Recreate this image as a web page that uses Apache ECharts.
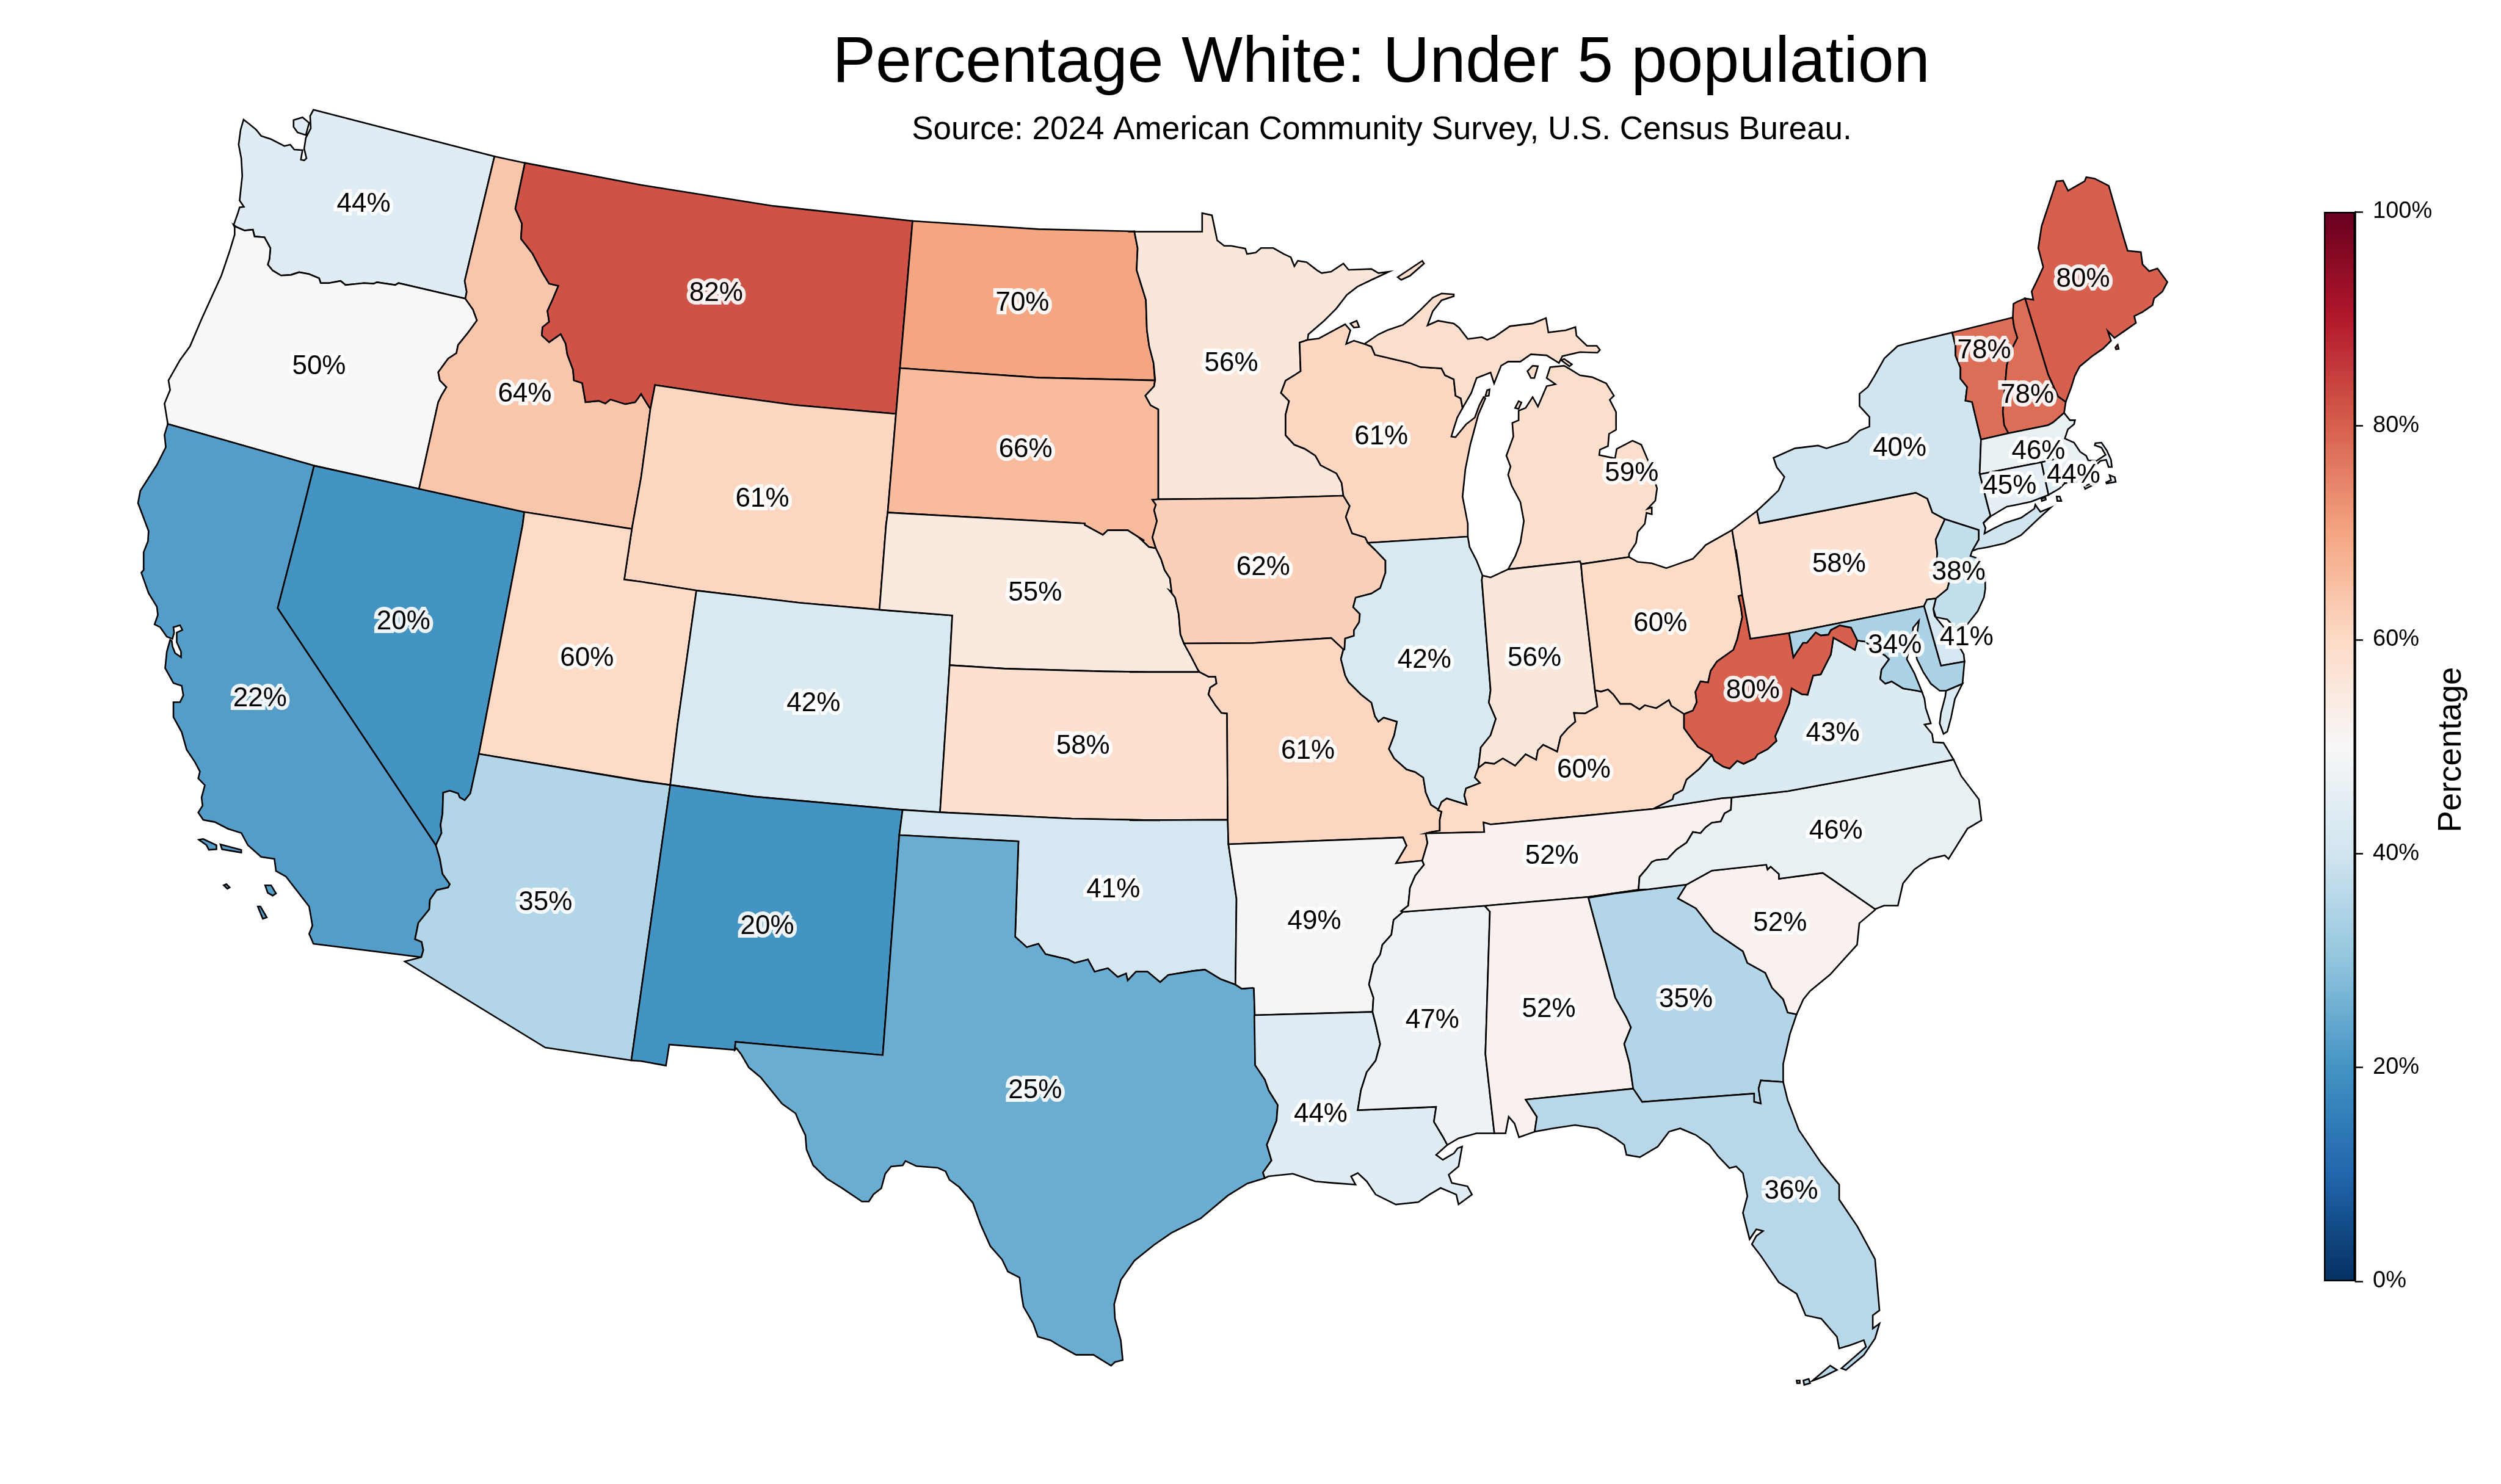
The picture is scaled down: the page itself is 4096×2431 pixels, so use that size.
<!DOCTYPE html>
<html>
<head>
<meta charset="utf-8">
<style>html,body{margin:0;padding:0;background:#fff}#c{width:4096px;height:2431px}</style>
<script src="https://cdn.jsdelivr.net/npm/echarts@6/dist/echarts.min.js"></script>
</head>
<body>
<div id="c"></div>
<script>
// ---------- values ----------
const stateNames = ['WA','OR','CA','NV','ID','MT','WY','UT','AZ','CO','NM','ND','SD','NE','KS','OK','TX','MN','IA','MO','AR','LA','WI','IL','MS','MI','IN','OH','KY','TN','AL','GA','FL','SC','NC','VA','WV','PA','NY','ME','VT','NH','MA','CT','RI','NJ','DE','MD'];
const stateValues = [44,50,22,20,64,82,61,60,35,42,20,70,66,55,58,41,25,56,62,61,49,44,61,42,47,59,56,60,60,52,52,35,36,52,46,43,80,58,40,80,78,78,46,45,44,38,41,34];
const colorStops = ['#053061','#2166ac','#4393c3','#92c5de','#d1e5f0','#f7f7f7','#fddbc7','#f4a582','#d6604d','#b2182b','#67001f'];
const titleText = 'Percentage White: Under 5 population';
const subtitleText = 'Source: 2024 American Community Survey, U.S. Census Bureau.';
const colorbarName = 'Percentage';
const colorbarRange = [0, 100];
const colorbarStep = 20;

// ---------- map geometry (basemap outlines) ----------
const frames = {o:[0,0,1,1],z1:[200,170,850,700],z2:[1050,170,850,700],z3:[1850,300,900,700],z4:[2750,250,850,700],z5:[200,860,850,700],z6:[1050,860,850,900],z7:[1850,950,900,700],z8:[2700,900,650,600],z9:[2000,1450,1150,850],z10:[1150,1650,1000,620],z11:[3200,600,350,300]};
const arcs = {
wa_n:['z1',578,22,1125,193],
wa_id:['z1',1125,193,1035,650,1041,690,1037,715],
wa_or:['z1',1037,715,835,658,825,665,770,655,760,660,730,658,700,662,675,665,660,650,625,658,600,658,595,640,565,625,535,618,510,628,480,630,455,612,440,590,445,570,448,530,430,490,400,487,395,462,370,465,345,452,337,445],
wa_c:['z1',337,445,350,400,355,380,368,378,355,355,358,320,363,265,360,200,352,150,358,95,367,58,385,75,405,95,420,118,450,130,490,155,508,150,520,168,545,170,540,205,550,208,557,200,550,165,555,125,570,90,568,45,578,22],
i_wa:['z1',518,60,545,50,565,70,555,115,530,105,518,85],
or_id:['z1',1037,715,1060,755,1072,795,1045,840,1015,885,1010,915,985,935,955,985,960,1015,980,1040,965,1070,955,1095,897,1413],
or_nv:['z1',897,1413,580,1328],
or_ca:['z1',580,1328,138,1175],
or_c:['z1',138,1175,128,1100,145,1050,140,1015,175,940,205,890,240,790,270,710,300,630,325,540,340,480,340,452,337,445],
ca_c:['z1',138,1175,128,1215,132,1260,105,1325,55,1420,48,1465,80,1568,'z5',78,60,65,100,65,165,58,175,80,250,105,300,108,330,98,365,115,375,135,410,152,418,157,395,155,375,175,368,182,385,165,395,165,430,178,465,178,485,160,470,152,445,150,425,145,422,135,465,130,525,155,580,180,590,185,625,175,650,155,650,155,705,180,760,195,825,220,870,235,905,230,930,250,955,240,1000,243,1030,230,1055,245,1082,280,1090,320,1115,360,1130,380,1175,420,1218,460,1225,465,1270,495,1290,530,1345,565,1400,575,1470,565,1500,578,1537,'o',690,1568],
ca_az:['z5',948,1175,960,1225,968,1280,990,1318,985,1330,950,1340,930,1375,928,1410,895,1460,885,1520,905,1530,910,1560,'o',690,1568],
ca_nv:['z5',948,1175,470,305,535,0,'z1',580,1328],
i_ca1:['z5',232,1155,245,1152,285,1175,285,1190,262,1192,255,1175],
i_ca2:['z5',297,1172,360,1192,360,1202,302,1190],
i_ca3:['z5',307,1322,315,1318,325,1330,318,1335],
i_ca4:['z5',432,1322,450,1322,465,1352,455,1360,440,1350],
i_ca5:['z5',410,1400,418,1400,437,1440,425,1445],
nv_id:['z1',897,1413,1215,1498],
nv_ut:['z1',1215,1498,'z5',1210,0,1078,840],
nv_az:['z5',1078,840,1052,985,1035,1010,1020,1000,1015,985,990,975,970,982,968,1060,962,1100,965,1130,948,1175],
id_n:['z1',1125,193,1217,217],
id_mt:['z1',1217,217,1188,385,1208,440,1205,495,1240,550,1270,620,1290,660,1318,668,1300,720,1285,760,1290,800,1270,820,1268,850,1290,875,1325,845,1340,880,1345,920,1362,975,1365,1015,1390,1025,1400,1095,1440,1090,1460,1100,1475,1085,1520,1102,1550,1095,1568,1065,'z2',10,1085,28,1120],
id_wy:['z2',28,1120,0,1370,'z1',1540,1560],
id_ut:['z1',1540,1560,1215,1498],
ut_wy:['z1',1540,1560,'z5',1517,200],
wy_ut_s:['z5',1517,200,'z6',0,162,167,187],
ut_co:['z6',167,187,110,570,88,742],
ut_az:['z6',88,742,0,730,'z5',1568,940,1078,840],
mt_wy:['z2',28,1120,42,1032,250,1070,460,1105,770,1138],
wy_sd:['z2',770,1138,745,1500],
wy_ne:['z2',745,1500,'z6',740,0,720,242],
wy_co:['z6',720,242,480,222,167,187],
mt_n:['z1',1217,217,1568,298,'z2',400,375,820,430],
mt_nd:['z2',820,430,782,970],
mt_sd:['z2',782,970,770,1138],
nd_n:['z2',820,430,1200,460,1490,468],
nd_mn:['z2',1490,468,1500,530,1497,610,1525,720,1528,830,1535,890,1548,950,1552,1015],
nd_sd:['z2',1552,1015,1200,1005,782,970],
sd_mn:['z3',73,722,70,745,45,780,60,815,82,830,82,1160],
sd_ia:['z3',82,1160,65,1162,75,1180,70,1200,78,1240,65,1300,75,1340],
sd_ne:['z3',75,1340,55,1335,30,1305,'z6',1520,45,1470,15,1410,15,1395,28,1340,0,'z2',1340,1540,745,1500],
ne_ia:['z3',75,1340,90,1380,100,1420,115,1450,120,1500,'z7',115,40,130,65,140,125,145,200,155,233],
ne_mo:['z7',155,233,175,280,195,330,200,338],
ne_ks:['z7',200,338,0,338,'z6',1568,420,1400,418,1100,410,932,400],
ne_ks2:['z6',932,400,940,258],
ne_co:['z6',940,258,720,242],
ks_mo:['z7',200,338,225,355,245,355,248,380,230,395,225,420,245,460,262,488,278,490,280,880],
ks_ok:['z7',280,880,0,882,'z6',1568,843,1300,838,903,820],
ks_co:['z6',903,820,932,400],
co_ok:['z6',790,813,903,820],
co_nm:['z6',790,813,340,775,88,742],
nm_ok:['z6',790,813,780,885],
nm_tx:['z6',780,885,730,1513,285,1475,283,1498],
nm_s:['z6',283,1498,85,1483,75,1543,0,1530,'o',1034,1737],
az_nm:['o',1034,1737,'z6',0,1330,88,742],
az_s:['o',1034,1737,893,1716,663,1575,690,1568],
tx_ok1:['z6',780,885,1140,903,1130,1175],
red:['z6',1130,1175,1165,1205,1200,1195,1222,1225,1290,1240,1310,1250,1350,1240,1370,1275,1410,1265,1440,1290,1465,1280,1470,1300,1495,1275,1530,1275,1568,1305,'z7',110,1450,180,1435,215,1430,260,1465,302,1485],
tx_ar:['z7',302,1485,320,1500,352,1497,'z9',73,312,75,393],
tx_la:['z10',1418,35,1420,240,1445,300,1455,345,1478,405,1475,470,1450,570,1462,635,1440,685,1445,708],
tx_c:['z10',1445,708,1400,730,1350,780,1280,875,1205,935,1160,985,1110,1050,1075,1130,1058,1230,1060,1290,1075,1380,1080,1462,1060,1470,1050,1485,1030,1465,1005,1440,960,1440,915,1400,895,1380,862,1365,850,1310,825,1240,820,1190,815,1120,785,1095,770,1045,740,990,715,900,695,810,660,745,635,715,625,680,605,665,550,658,522,637,515,655,485,660,470,690,460,750,440,775,428,805,410,805,360,750,320,710,285,655,268,590,265,530,250,480,240,440,205,400,180,350,150,290,120,250,100,195,88,170,'z6',283,1498],
ok_mo:['z7',280,880,282,970],
ok_ar:['z7',282,970,305,1170,302,1485],
mo_ar:['z7',282,970,780,945,790,975,760,1040,835,1030],
mo_tn:['z7',835,1030,850,965,845,930],
mo_ky:['z7',845,930,860,925,885,920,885,880,890,850],
mo_il:['z7',890,850,860,825,845,780,838,725,815,705,790,695,755,655,740,620,755,570,763,520,725,505,710,520,700,500,690,450,660,420,625,375,615,350,603,290,610,255],
ia_mo:['z7',155,233,350,232,575,213,610,255],
ia_il:['z3',680,1320,700,1345,730,1385,730,1430,'z7',715,30,690,50,645,65,638,100,657,125,655,155,640,185,640,205,615,215,613,255,610,255],
mn_ia:['z3',82,1160,350,1157,610,1147],
wi_ia:['z3',610,1147,628,1185,617,1225,635,1285,672,1300,680,1320],
wi_il:['z3',680,1320,965,1297],
il_lk:['z3',965,1297,970,1335,990,1385,1007,1440],
il_in:['z3',1007,1440,'z7',1005,0,1030,405,1025,450,1045,510,1030,570,1002,615,995,690],
il_ky:['z7',995,690,985,725,1000,745,960,765,955,790,962,825,905,802,890,815,880,845,890,850],
lake_in:['z3',1007,1440,1030,1447,1080,1417],
in_mi:['z3',1080,1417,1285,1388,1288,1398],
in_oh:['z3',1288,1398,'z7',1292,0,1328,405],
in_ky:['z7',1328,405,1335,465,1300,490,1268,488,1272,520,1250,545,1230,575,1220,630,1180,605,1165,625,1160,660,1130,640,1100,682,1065,655,1040,675,1015,670,995,690],
mi_oh:['z3',1288,1398,1425,1372],
oh_lk:['z3',1425,1372,1450,1390,1490,1395,'z8',70,80,110,65,175,40,210,0,'z4',80,1440,160,1385],
oh_pa:['z4',160,1385,185,1568,'z8',345,0,370,195],
oh_wv:['z8',370,195,355,200,365,250,370,290,350,385,335,430,270,480,245,520,235,570,205,565,185,610,190,655,175,690,140,705],
oh_ky:['z8',140,705,90,670,80,645,30,680,'z7',1470,460,1455,475,1430,455,1400,455,1380,420,1365,402,1345,410,1328,405],
ky_wv:['z8',140,705,140,765,170,810,195,845,250,880],
ky_va:['z8',250,880,200,940,150,985,135,1030,100,1050,95,1070,20,1110],
ky_tn:['z7',845,930,1012,925,1010,890,1030,897,1300,865,1495,840],
tn_va:['z8',20,1110,290,1065,328,1062],
tn_nc:['z8',328,1062,325,1115,300,1130,285,1165,250,1170,225,1190,205,1215,175,1210,150,1255,110,1285,75,1325,30,1330,'z7',1490,1035,1475,1060,1455,1090,1452,1137],
ga_tn:['z7',1452,1137,1310,1163],
al_tn:['z7',1020,1195,1310,1163],
ms_tn:['z7',780,1218,1020,1195],
ar_tn:['z7',835,1030,840,1045,815,1085,800,1130,795,1195,775,1215,780,1218],
ar_ms:['z7',780,1218,'z9',385,105,380,150,360,180,355,210,340,240,330,300,340,340,338,383],
la_ar:['z9',75,393,338,383],
la_ms:['z9',338,383,345,420,355,480,345,530,325,565,312,620,305,680,480,670,475,715,495,760,505,785],
la_c:['z9',505,785,480,815,495,830,520,810,528,795,538,790,530,850,508,875,515,900,550,910,560,935,545,950,530,965,525,935,490,915,465,935,440,958,390,965,345,935,325,895,305,870,290,880,300,905,250,900,210,895,160,872,105,880,'z10',1445,708],
ms_al:['z9',590,65,600,80,590,510,610,750],
ms_c:['z9',610,750,570,750,530,765,505,785],
al_ga:['z9',820,38,880,340,905,400,915,430,900,480,912,540,920,615],
al_fl:['z9',920,615,680,648,705,700,700,745],
al_c:['z9',700,745,665,762,655,720,642,700,635,750,610,750],
ga_nc:['z8',0,1455,150,1435],
ga_sc:['z8',150,1435,'z9',1020,40,1060,70,1100,140,1165,200,1175,235,1215,265,1230,310,1255,345,1265,385,1285,390],
ga_c:['z9',1285,390,1270,450,1255,540,1255,595],
ga_fl:['z9',1255,595,1205,590,1200,615,1205,660,1190,655,1190,630,940,655,920,615],
fl_c:['z9',1255,595,1265,650,1290,740,1340,840,1380,905,1380,950,1420,1030,1460,1130,1470,1285,1455,1300,1455,1340,1470,1325,1460,1370,1435,1420,1395,1465,1385,1460,1440,1395,1435,1375,1405,1390,1380,1400,1375,1365,1340,1310,1305,1300,1285,1235,1245,1200,1205,1120,1185,1085,1195,1060,1210,1045,1195,1040,1180,1070,1165,990,1175,940,1165,870,1150,850,1135,855,1110,820,1090,785,1060,755,1025,735,1000,745,975,790,935,822,905,815,900,785,880,765,840,735,790,725,740,735,700,745],
i_fl1:['z9',1320,1498,1360,1452,1375,1465,1345,1485],
i_fl2:['z9',1300,1497,1312,1492,1315,1505,1302,1510],
i_fl3:['z9',1285,1497,1292,1497,1292,1505,1286,1505],
sc_nc:['z8',150,1435,200,1405,250,1375,465,1350,470,1370,482,1358,515,1390,515,1410,688,1385,895,1540],
sc_c:['z9',1460,75,1425,115,1420,180,1390,225,1360,270,1315,320,1300,345,1285,390],
va_nc:['z8',328,1062,550,1035,800,985,1205,900],
nc_c:['z8',1205,900,1235,970,1305,1070,1315,1160,1260,1195,1185,1325,1170,1310,1110,1325,1050,1370,1005,1430,985,1525,930,1525,895,1540],
wv_va:['z8',250,880,260,905,295,930,320,938,350,905,375,918,420,895,430,878,470,855,505,820,500,800,540,700,555,660,565,595,605,620,628,622,650,540,680,535,720,450,730,378,815,430,825,390],
va_md:['z8',825,390,860,395,870,410,935,455,950,470,920,515,915,555,935,575,960,565,1005,595,1060,605,1080,610],
va_c:['z8',1080,610,1090,640,1095,680,1115,745,1090,750,1120,790,1125,825,1165,828,1205,900],
va_es:['z8',1240,575,1210,640,1195,720,1180,780,1165,790,1150,745,1155,700,1172,630,1175,605],
md_wv:['z8',825,390,800,335,755,325,720,345,710,365,680,368,660,355,625,400,610,400,572,462,555,358],
pa_wv:['z8',555,358,402,382,370,195],
pa_md:['z8',1088,243,555,358],
de_md:['z8',1088,243,1155,498,1248,480],
md_c:['z8',1248,480,1240,575,1175,605,1150,605,1115,575,1085,525,1060,470,1050,400,1062,350,1068,305,1045,335,1040,380,1020,470,1050,530,1080,610],
de_c:['z8',1248,480,1245,450,1235,430,1200,380,1160,325,1130,285,1125,255,1135,210],
pa_de:['z8',1135,210,1100,215,1088,243],
pa_lk:['z4',160,1385,235,1315],
pa_ny_w:['z4',235,1315,243,1360],
pa_ny:['z4',243,1360,715,1248,750,1270,765,1320,803,1345],
pa_nj:['z4',803,1345,775,1420,780,1470,775,1530,'z8',1150,70,1190,130,1180,170,1135,210],
nj_ny:['z4',803,1345,905,1385,905,1420,885,1462],
nj_c:['z4',885,1462,880,1480,905,1490,915,1540,'z8',1330,110,1330,170,1325,205,1300,265,1260,320,1210,335,1180,300,1135,290,1125,255,1135,210],
ny_n:['z4',235,1315,270,1275,300,1240,318,1190,295,1155,285,1120,350,1085,420,1075,445,1085,490,1068,510,1060,545,1020,575,1005,575,970,545,930,545,885,570,860,590,820,620,755,660,710,680,703,825,660],
ny_vt:['z4',825,660,835,710,835,745,850,790,850,830,870,860,865,910,885,915,912,1053],
ny_ma:['z4',912,1053,908,1178],
ny_ct:['z4',908,1178,'z11',165,680,180,735,145,770],
ny_li:['z11',145,770,155,795,150,822,190,800,250,770,330,745,395,700,400,680,410,695,425,715,475,695,420,745,330,830,250,870,160,890,115,898,'z4',885,1462],
vt_n:['z4',825,660,1008,605],
vt_nh:['z4',1008,605,1012,640,1022,680,1005,720,990,780,985,850,978,950,982,1000,995,1030],
vt_ma:['z4',995,1030,912,1053],
nh_n:['z4',1008,605,1010,555,1020,548,1045,535],
nh_me:['z4',1045,535,1115,815,1145,895,1168,915],
nh_c:['z4',1168,915,1163,955],
nh_ma:['z4',1163,955,1130,990,1115,1000,995,1030],
me_c:['z4',1045,535,1070,540,1065,510,1085,460,1100,420,1085,350,1095,270,1140,105,1160,103,1175,140,1225,105,1230,90,1255,95,1298,122,1345,320,1355,360,1395,365,1400,410,1420,435,1445,425,1475,475,1460,510,1435,535,1430,560,1400,585,1375,600,1380,625,1345,655,1315,680,1295,655,1305,690,1280,720,1250,745,1210,785,1195,820,1185,860,1168,915],
i_me:['z4',1318,715,1325,705,1328,720,1320,722],
ma_c:['z11',540,228,570,265,595,265,590,285,560,310,550,340,545,355,590,375,620,420,650,440,660,462,700,465,745,435,725,400,692,388,695,378,725,375,752,415,772,460,776,495,760,495,748,460,720,465,640,540,600,570,545,575],
ma_ri:['z11',545,575,525,520,500,455,430,472],
ma_ct:['z11',430,472,130,530],
ri_c:['z11',545,575,520,600,465,632],
ri_ct:['z11',465,632,430,472],
ct_c:['z11',465,632,380,665,310,680,260,690,180,738,145,770],
i_ma1:['z11',748,570,772,560,765,535,790,545,795,568,750,576],
i_ma2:['z11',640,590,690,570,700,575,645,603],
i_ri1:['z11',505,640,520,640,528,662,508,662],
i_ri2:['z11',430,650,450,645,452,655,432,662],
wi_sup:['z3',508,575,540,570,590,535,615,518,630,540,618,590,640,578,670,590],
wi_mi:['z3',670,590,690,600,700,630,800,660,830,675,890,680,900,705,925,720,930,780,945,790,950,825],
wi_lk:['z3',950,825,935,860,925,900,918,930,930,932,960,885,985,860,998,815,1010,785,1015,790,995,850,972,960,958,1050,950,1150,965,1250,965,1297],
mn_wi:['z3',508,575,485,585,488,690,470,705,445,725,432,770,455,800,445,850,445,925,470,960,500,975,530,1000,545,1035,590,1065,605,1100,610,1147],
mn_n:['z3',10,178,207,178,207,110,235,118,250,210,270,230,290,230,330,240,335,260,360,255,375,238,410,238,440,260,460,272,470,305,480,285,505,290,535,320,548,330,575,325,610,295,625,318,690,315,710,330,740,325,690,355,650,380,620,410,590,460,555,505,510,555,508,575],
up_c:['z3',950,825,975,770,990,715,1030,695,1040,735,1060,670,1080,655,1115,655,1145,628,1190,632,1225,660,1235,635,1285,620,1335,622,1342,612,1333,597,1305,597,1275,560,1272,528,1245,540,1195,548,1188,495,1150,515,1085,525,1040,565,1020,575,1005,565,965,572,940,530,925,515,880,505,850,522,865,470,890,430,925,415,925,408,890,405,865,420,830,465,805,495,780,520,735,540,710,555,670,590],
lp_c:['z3',1080,1417,1100,1370,1115,1320,1125,1240,1115,1170,1090,1110,1080,1070,1087,1040,1075,1000,1095,930,1092,880,1110,870,1110,835,1130,825,1150,785,1165,820,1175,790,1190,745,1215,738,1190,715,1200,675,1240,670,1260,685,1285,705,1320,712,1360,735,1382,780,1370,795,1388,840,1388,905,1368,920,1365,965,1342,978,1340,998,1385,1010,1390,975,1435,945,1460,960,1480,1020,1505,1120,1500,1165,1478,1195,1490,1190,1490,1215,1475,1210,1470,1250,1450,1280,1445,1320,1425,1360,1425,1372],
i_mi1:['z3',765,345,835,285,840,295,800,340,775,355],
i_mi2:['z3',630,515,648,505,655,528,640,530],
i_mi3:['z3',1135,690,1150,670,1165,672,1155,715,1145,715],
i_mi4:['z3',1100,825,1110,800,1118,805,1110,828],
i_wi1:['z3',1020,760,1027,757,1025,780,1015,782],
i_mi5:['z3',1232,650,1240,645,1262,665,1255,672]
};
const rings = {
WA:[['wa_n','wa_id','wa_or','wa_c'],['i_wa']],
OR:[['-wa_or','or_id','or_nv','or_ca','or_c']],
CA:[['ca_c','-ca_az','ca_nv','or_ca'],['i_ca1'],['i_ca2'],['i_ca3'],['i_ca4'],['i_ca5']],
NV:[['-or_nv','nv_id','nv_ut','nv_az','ca_nv']],
ID:[['id_n','id_mt','id_wy','id_ut','-nv_id','-or_id','-wa_id']],
MT:[['mt_n','mt_nd','mt_sd','-mt_wy','-id_mt']],
WY:[['mt_wy','wy_sd','wy_ne','wy_co','-wy_ut_s','-ut_wy','-id_wy']],
UT:[['-id_ut','ut_wy','wy_ut_s','ut_co','ut_az','-nv_ut']],
AZ:[['-ut_az','-az_nm','az_s','-ca_az','-nv_az']],
CO:[['-wy_co','-ne_co','-ne_ks2','-ks_co','-co_ok','co_nm','-ut_co']],
NM:[['-co_nm','nm_ok','nm_tx','nm_s','az_nm']],
ND:[['nd_n','nd_mn','nd_sd','-mt_nd']],
SD:[['-nd_sd','sd_mn','sd_ia','sd_ne','-wy_sd','-mt_sd']],
NE:[['-sd_ne','ne_ia','ne_mo','ne_ks','ne_ks2','ne_co','-wy_ne']],
KS:[['-ne_ks','ks_mo','ks_ok','ks_co']],
OK:[['co_ok','-ks_ok','ok_mo','ok_ar','-red','-tx_ok1','-nm_ok']],
TX:[['tx_ok1','red','tx_ar','tx_la','tx_c','-nm_tx']],
MN:[['mn_n','mn_wi','-mn_ia','-sd_mn','-nd_mn']],
IA:[['mn_ia','wi_ia','ia_il','-ia_mo','-ne_ia','-sd_ia']],
MO:[['ne_mo','ks_mo','ok_mo','mo_ar','mo_tn','mo_ky','mo_il','-ia_mo']],
AR:[['mo_ar','ar_tn','ar_ms','-la_ar','-tx_ar','-ok_ar']],
LA:[['la_ar','la_ms','la_c','-tx_la']],
WI:[['wi_sup','wi_mi','wi_lk','-wi_il','-wi_ia','-mn_wi'],['i_wi1']],
IL:[['wi_il','il_lk','il_in','il_ky','mo_il','-ia_il']],
MS:[['ms_tn','ms_al','ms_c','-la_ms','-ar_ms']],
MI:[['wi_mi','up_c'],['lp_c','-mi_oh','-in_mi'],['i_mi1'],['i_mi2'],['i_mi3'],['i_mi4'],['i_mi5']],
IN:[['lake_in','in_mi','in_oh','in_ky','-il_in']],
OH:[['mi_oh','oh_lk','oh_pa','oh_wv','oh_ky','-in_oh']],
KY:[['oh_ky','in_ky','il_ky','-mo_ky','ky_tn','-ky_va','-ky_wv']],
TN:[['ky_tn','tn_va','tn_nc','-ga_tn','-al_tn','-ms_tn','-ar_tn','mo_tn']],
AL:[['al_tn','al_ga','al_fl','al_c','-ms_al']],
GA:[['ga_tn','ga_nc','ga_sc','ga_c','ga_fl','-al_ga']],
FL:[['-ga_fl','fl_c','-al_fl'],['i_fl1'],['i_fl2'],['i_fl3']],
SC:[['sc_nc','sc_c','-ga_sc']],
NC:[['va_nc','nc_c','-sc_nc','-ga_nc','-tn_nc']],
VA:[['wv_va','va_md','va_c','-va_nc','-tn_va','-ky_va'],['va_es']],
WV:[['ky_wv','wv_va','md_wv','pa_wv','oh_wv']],
PA:[['pa_lk','pa_ny_w','pa_ny','pa_nj','pa_de','pa_md','pa_wv','-oh_pa']],
NY:[['ny_n','ny_vt','ny_ma','ny_ct','ny_li','-nj_ny','-pa_ny','-pa_ny_w']],
ME:[['me_c','-nh_me'],['i_me']],
VT:[['vt_n','vt_nh','vt_ma','-ny_vt']],
NH:[['nh_n','nh_me','nh_c','nh_ma','-vt_nh']],
MA:[['-vt_ma','-nh_ma','ma_c','ma_ri','ma_ct','-ny_ma'],['i_ma1'],['i_ma2']],
CT:[['-ma_ct','-ri_ct','ct_c','-ny_ct']],
RI:[['-ma_ri','ri_c','ri_ct'],['i_ri1'],['i_ri2']],
NJ:[['nj_ny','nj_c','-pa_nj']],
DE:[['de_md','de_c','pa_de']],
MD:[['-pa_md','de_md','md_c','-va_md','md_wv']]
};
// label anchors, in the reference's 1568-wide preview
const labelAt = {WA:[228,127],OR:[200,229],CA:[163,437],NV:[253,389],ID:[329,246],MT:[449,183],WY:[478,312],UT:[368,412],AZ:[342,565],CO:[510,440],NM:[481,580],ND:[641,189],SD:[643,281],NE:[649,371],KS:[679,467],OK:[698,557],TX:[649,683],MN:[772,227],IA:[792,355],MO:[820,470],AR:[824,577],LA:[828,698],WI:[866,273],IL:[893,413],MS:[898,639],MI:[1023,296],IN:[962,412],OH:[1041,390],KY:[993,482],TN:[973,536],AL:[971,632],GA:[1057,626],FL:[1123,746],SC:[1116,578],NC:[1151,520],VA:[1149,459],WV:[1099,432],PA:[1153,353],NY:[1191,280],ME:[1306,174],VT:[1244,219],NH:[1271,247],MA:[1278,282],CT:[1260,304],RI:[1300,297],NJ:[1228,358],DE:[1233,399],MD:[1188,404]};
const previewScale = 4096 / 1568;

function arcPoints(name) {
  const rev = name[0] === '-';
  const a = arcs[rev ? name.slice(1) : name];
  const out = [];
  let f = null, i = 0;
  while (i < a.length) {
    if (typeof a[i] === 'string') {
      const r = frames[a[i]];
      const sx = a[i] === 'o' ? 1 : Math.min(r[2] * 3, 1568) / r[2];
      const sy = a[i] === 'o' ? 1 : Math.min(r[3] * 3, 1568) / r[3];
      f = [r[0], r[1], sx, sy];
      i++;
    } else {
      out.push([f[0] + a[i] / f[2], -(f[1] + a[i + 1] / f[3])]);
      i += 2;
    }
  }
  return rev ? out.reverse() : out;
}
function ringPoints(list) {
  const pts = [];
  list.forEach(n => arcPoints(n).forEach(p => pts.push(p)));
  pts.push(pts[0].slice());
  return pts;
}
const geoJson = {
  type: 'FeatureCollection',
  features: stateNames.map(s => ({
    type: 'Feature',
    properties: {name: s, cp: [labelAt[s][0] * previewScale, -labelAt[s][1] * previewScale - 3]},
    geometry: {type: 'MultiPolygon', coordinates: rings[s].map(r => [ringPoints(r)])}
  }))
};

const FONT = '"Liberation Sans", Arial, sans-serif';
echarts.registerMap('usa', geoJson);
const chart = echarts.init(document.getElementById('c'), null, {renderer: 'canvas', width: 4096, height: 2431});
chart.setOption({
  animation: false,
  backgroundColor: '#ffffff',
  title: [
    {text: titleText, left: 2257, top: 47, textAlign: 'center', textStyle: {fontFamily: FONT, fontSize: 106, fontWeight: 'normal', color: '#000'}},
    {text: subtitleText, left: 2258, top: 182, textAlign: 'center', textStyle: {fontFamily: FONT, fontSize: 53, fontWeight: 'normal', color: '#000'}}
  ],
  tooltip: {show: false},
  visualMap: {show: false, type: 'continuous', seriesIndex: 0, min: colorbarRange[0], max: colorbarRange[1], inRange: {color: colorStops}},
  grid: {left: 3806, top: 347, width: 51, height: 1752, show: false, containLabel: false},
  xAxis: {type: 'category', data: [''], show: false, boundaryGap: true},
  yAxis: {
    type: 'value', position: 'right', min: colorbarRange[0], max: colorbarRange[1], interval: colorbarStep,
    splitLine: {show: false},
    axisLine: {show: true, lineStyle: {color: '#000', width: 2.5}},
    axisTick: {show: true, length: 13, lineStyle: {color: '#000', width: 2.5}},
    axisLabel: {formatter: '{value}%', margin: 29, fontFamily: FONT, fontSize: 38, color: '#000', padding: [8, 0, 0, 0]},
    name: colorbarName, nameLocation: 'middle', nameRotate: 90, nameGap: 132,
    nameTextStyle: {fontFamily: FONT, fontSize: 53, color: '#000', padding: [0, 10, 0, 0]}
  },
  series: [
    {
      type: 'map', map: 'usa', silent: true, roam: false, aspectScale: 1,
      layoutCenter: [2048, 1215.5], layoutSize: 4096,
      boundingCoords: [[0, 0], [4096, -2431]],
      selectedMode: false,
      itemStyle: {borderColor: '#000', borderWidth: 2.6, areaColor: '#eee'},
      emphasis: {disabled: true},
      label: {show: true, formatter: '{c}%', fontFamily: FONT, fontSize: 44, color: '#000', textBorderColor: 'rgba(255,255,255,0.9)', textBorderWidth: 12},
      data: stateNames.map((n, i) => ({name: n, value: stateValues[i]}))
    },
    {
      type: 'bar', data: [colorbarRange[1]], barWidth: '100%', silent: true,
      itemStyle: {
        borderColor: '#000', borderWidth: 2.5,
        color: {type: 'linear', x: 0, y: 1, x2: 0, y2: 0, colorStops: colorStops.map((c, i) => ({offset: i / (colorStops.length - 1), color: c}))}
      }
    }
  ]
});
</script>
</body>
</html>
